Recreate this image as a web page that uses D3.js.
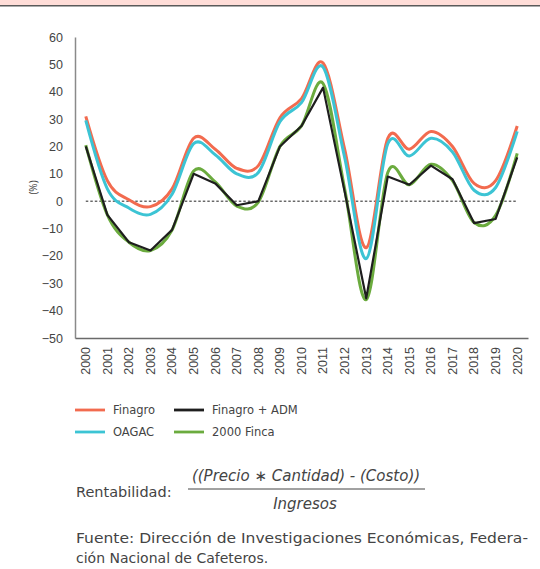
<!DOCTYPE html>
<html>
<head>
<meta charset="utf-8">
<script src="https://cdn.jsdelivr.net/npm/d3@7"></script>
<style>
  body { margin: 0; background: #fff; }
  svg { display: block; font-family: "Open Sans", sans-serif; }
  .tick text { fill: #444; }
  .wide { font-family: "DejaVu Sans", sans-serif; }
</style>
</head>
<body>
<div id="chart"></div>
<script>
/* Rentabilidad cafetera 2000-2020 */

const width = 540,
  height = 569,
  margin = ({ top: 37, right: 12, bottom: 231, left: 75 });

// data
const years = d3.range(2000, 2021).map(String);
const finagro = [31, 7.5, 0.5, -2, 4.5, 23, 19, 12, 13, 30.5, 37.5, 50.5, 19, -17, 23, 19, 25.5, 20, 6.5, 7.5, 27.5];
const oagac = [29.5, 4.5, -2.5, -4.8, 2.5, 21, 17, 10, 10.5, 29, 36, 49, 16, -21, 21, 16.5, 23, 18, 4, 5, 25.5];
const finagroAdm = [20, -5, -15, -18, -10.5, 10, 6.5, -1.5, 0, 20, 27.5, 41.5, 3.5, -35.5, 9, 6, 13, 8, -8, -6.5, 16];
const finca2000 = [20.5, -5, -15, -18, -10.5, 11, 7, -1.8, -0.3, 20, 27.5, 43, 4.5, -36, 10.5, 6, 13.5, 7.5, -7.8, -5.2, 17.5];
const yTicks = [60, 50, 40, 30, 20, 10, 0, -10, -20, -30, -40, -50];

const series = [
  { name: "Finagro", values: finagro, color: "#F26B4F", w: 3, smooth: true },
  { name: "OAGAC", values: oagac, color: "#3CC4D4", w: 3, smooth: true },
  { name: "2000 Finca", values: finca2000, color: "#6BAB3E", w: 3, smooth: true },
  { name: "Finagro + ADM", values: finagroAdm, color: "#1E1E1E", w: 2.2, smooth: false }
];

const svg = d3.select("#chart")
  .append("svg")
  .attr("width", width)
  .attr("height", height)
  .attr("viewBox", [0, 0, width, height]);

// pink band at the top
svg.append("rect")
  .attr("x", 0).attr("y", 0)
  .attr("width", width).attr("height", 5)
  .attr("fill", "#FFDDD8");
svg.append("line")
  .attr("x1", 0).attr("x2", width)
  .attr("y1", 5.8).attr("y2", 5.8)
  .attr("stroke", "#5a5a5a")
  .attr("stroke-width", 1.6);

let x = d3.scaleBand()
  .domain(years)
  .range([margin.left, width - margin.right]);

let y = d3.scaleLinear()
  .domain([-50, 60])
  .range([height - margin.bottom, margin.top]);

// y axis
svg.append("g")
  .attr("transform", `translate(${margin.left},0)`)
  .call(d3.axisLeft(y).tickValues(yTicks).tickSize(0).tickPadding(12))
  .call(g => g.select(".domain").attr("stroke", "#8a8a8a").attr("stroke-width", 1.5))
  .call(g => g.selectAll("text").attr("font-size", 12.5));

// x axis
svg.append("g")
  .attr("transform", `translate(0,${height - margin.bottom})`)
  .call(d3.axisBottom(x).tickSize(0).tickPadding(0))
  .call(g => g.select(".domain").attr("stroke", "#6a6a6a").attr("stroke-width", 1.5))
  .call(g => g.selectAll("text")
    .attr("font-size", 12.5)
    .attr("text-anchor", "end")
    .attr("transform", "rotate(-90)")
    .attr("x", -9)
    .attr("y", 0)
    .attr("dy", "0.35em"));

svg.append("text")
  .attr("transform", `translate(37,${y(5)}) rotate(-90)`)
  .attr("text-anchor", "middle")
  .attr("font-size", 10)
  .attr("fill", "#444")
  .text("(%)");

// zero line
svg.append("line")
  .attr("x1", x(years[0]) + x.bandwidth() / 2)
  .attr("x2", x(years[years.length - 1]) + x.bandwidth() / 2)
  .attr("y1", y(0)).attr("y2", y(0))
  .attr("stroke", "#222")
  .attr("stroke-width", 1)
  .attr("stroke-dasharray", "2.5,2");

const cx = (d, i) => x(years[i]) + x.bandwidth() / 2;

for (let s of series) {
  let line = d3.line()
    .x(cx)
    .y(d => y(d))
    .curve(s.smooth ? d3.curveCatmullRom.alpha(0) : d3.curveLinear);
  svg.append("path")
    .datum(s.values)
    .attr("d", line)
    .attr("fill", "none")
    .attr("stroke", s.color)
    .attr("stroke-width", s.w)
    .attr("stroke-linejoin", "round");
}

// legend
const legendItems = [
  { name: "Finagro", color: "#F26B4F", col: 0, row: 0 },
  { name: "Finagro + ADM", color: "#1E1E1E", col: 1, row: 0 },
  { name: "OAGAC", color: "#3CC4D4", col: 0, row: 1 },
  { name: "2000 Finca", color: "#6BAB3E", col: 1, row: 1 }
];
const legend = svg.append("g").attr("transform", "translate(75,410)");
legend.selectAll("g")
  .data(legendItems)
  .join("g")
  .attr("transform", d => `translate(${d.col * 99},${d.row * 22})`)
  .call(g => g.append("line")
    .attr("x1", 0).attr("x2", 30)
    .attr("stroke", d => d.color)
    .attr("stroke-width", 2.8))
  .call(g => g.append("text")
    .attr("class", "wide")
    .attr("x", 38)
    .attr("dy", "0.35em")
    .attr("font-size", 11.5)
    .attr("fill", "#444")
    .text(d => d.name));

// formula
const note = svg.append("g").attr("class", "wide").attr("fill", "#444");
note.append("text")
  .attr("x", 76).attr("y", 497)
  .attr("font-size", 14.5)
  .text("Rentabilidad:");
note.append("text")
  .attr("x", 306).attr("y", 481)
  .attr("text-anchor", "middle")
  .attr("font-size", 15)
  .attr("font-style", "italic")
  .text("((Precio ∗ Cantidad) - (Costo))");
note.append("line")
  .attr("x1", 188).attr("x2", 425)
  .attr("y1", 489).attr("y2", 489)
  .attr("stroke", "#444")
  .attr("stroke-width", 1);
note.append("text")
  .attr("x", 305).attr("y", 509)
  .attr("text-anchor", "middle")
  .attr("font-size", 15)
  .attr("font-style", "italic")
  .text("Ingresos");

note.append("text")
  .attr("x", 76).attr("y", 543)
  .attr("font-size", 14)
  .attr("textLength", 452)
  .attr("lengthAdjust", "spacingAndGlyphs")
  .text("Fuente: Dirección de Investigaciones Económicas, Federa-");
note.append("text")
  .attr("x", 76).attr("y", 563)
  .attr("font-size", 14)
  .text("ción Nacional de Cafeteros.");
</script>
</body>
</html>
